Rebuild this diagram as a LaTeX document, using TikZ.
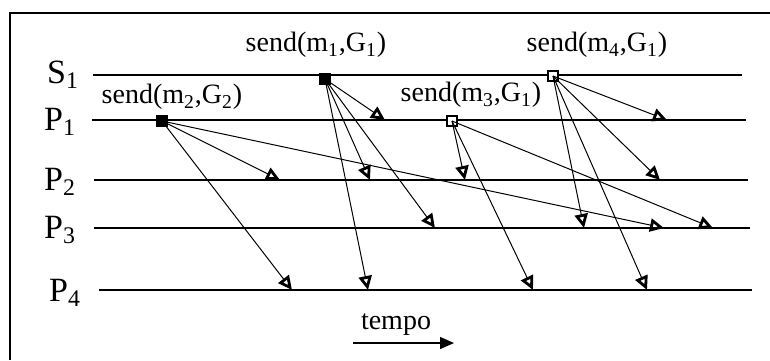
\documentclass[tikz,border=0pt]{standalone}
\usepackage{fontspec}
\setmainfont{Liberation Serif}
\usetikzlibrary{arrows.meta}

\tikzset{
  lbl/.style={font=\fontsize{14}{16}\selectfont, inner sep=1pt},
  plbl/.style={font=\fontsize{17}{19}\selectfont, inner sep=1pt},
  proc/.style={line width=0.6pt},
  msg/.style={line width=0.5pt, -{Triangle[open, length=7pt, width=6.5pt, line width=1.4pt]}},
  fsend/.style={draw, fill=black, minimum size=5pt, inner sep=0pt, line width=0.6pt},
  osend/.style={draw, fill=white, minimum size=5pt, inner sep=0pt, line width=1.4pt},
}

\begin{document}
\begin{tikzpicture}[x=0.5pt, y=-0.5pt]
\useasboundingbox (0,0) rectangle (770,360);
% --- frame (cut at right and bottom) ---
\draw[line width=1pt] (10,360) -- (10,13) -- (770,13);
% --- processes ---
\node[plbl] (lS1) at (63,75) {S\textsubscript{1}};
\node[plbl] (lP1) at (60,122) {P\textsubscript{1}};
\node[plbl] (lP2) at (60,182) {P\textsubscript{2}};
\node[plbl] (lP3) at (60,230) {P\textsubscript{3}};
\node[plbl] (lP4) at (65,293) {P\textsubscript{4}};
\draw[proc] (93,75) -- (742,75);
\draw[proc] (92,120) -- (746,120);
\draw[proc] (94,180) -- (748,180);
\draw[proc] (94,228) -- (750,228);
\draw[proc] (99,290) -- (752,290);
% --- send events ---
\node[fsend] (m2) at (162,121) {};
\node[fsend] (m1) at (325,79) {};
\node[osend] (m3) at (452,121) {};
\node[osend] (m4) at (553,76) {};
\node[lbl] at (172,97) {send(m\textsubscript{2},G\textsubscript{2})};
\node[lbl] at (316,45) {send(m\textsubscript{1},G\textsubscript{1})};
\node[lbl] at (471,95) {send(m\textsubscript{3},G\textsubscript{1})};
\node[lbl] at (597,45) {send(m\textsubscript{4},G\textsubscript{1})};
% --- deliveries ---
\coordinate (d2a) at (280,180);
\coordinate (d2b) at (664,228);
\coordinate (d2c) at (292,290);
\coordinate (d1a) at (385,120);
\coordinate (d1b) at (370,180);
\coordinate (d1c) at (435,228);
\coordinate (d1d) at (368,290);
\coordinate (d3a) at (465,180);
\coordinate (d3b) at (713,228);
\coordinate (d3c) at (533,290);
\coordinate (d4a) at (667,120);
\coordinate (d4b) at (660,180);
\coordinate (d4c) at (584,228);
\coordinate (d4d) at (647,290);
\foreach \d in {d2a,d2b,d2c} \draw[msg] (m2.center) -- (\d);
\foreach \d in {d1a,d1b,d1c,d1d} \draw[msg] (m1.center) -- (\d);
\foreach \d in {d3a,d3b,d3c} \draw[msg] (m3.center) -- (\d);
\foreach \d in {d4a,d4b,d4c,d4d} \draw[msg] (m4.center) -- (\d);
% --- time ---
\node[lbl] (tempo) at (396,325) {tempo};
\coordinate (t0) at (353,343);
\coordinate (t1) at (454,343);
\draw[line width=0.7pt, -{Triangle[length=7pt, width=6pt]}] (t0) -- (t1);
\end{tikzpicture}
\end{document}
